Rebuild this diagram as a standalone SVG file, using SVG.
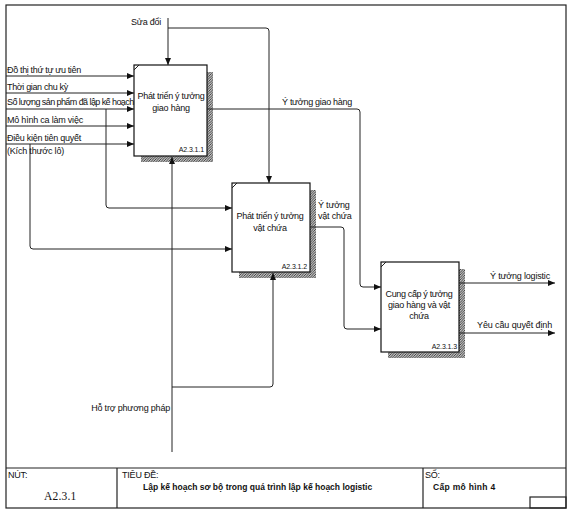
<svg xmlns="http://www.w3.org/2000/svg" width="576" height="512" viewBox="0 0 576 512">
<style>
text{font-family:"Liberation Sans",Arial,sans-serif;font-size:9px;fill:#111;letter-spacing:-0.2px}
.c{text-anchor:middle}
.e{text-anchor:end}
.lbl{font-size:7px;letter-spacing:-0.1px}
.b{font-weight:bold}
.box{fill:#fff;stroke:#111;stroke-width:1.2}
.frame{fill:none;stroke:#222;stroke-width:1.2}
.ln{fill:none;stroke:#222;stroke-width:1}
.hat{fill:url(#hatch)}
</style>
<defs>
<pattern id="hatch" patternUnits="userSpaceOnUse" width="2.5" height="2.5">
<rect width="2.5" height="2.5" fill="#fff"/>
<path d="M0,2.5 L2.5,0 M-1,1 L1,-1 M1.5,3.5 L3.5,1.5" stroke="#222" stroke-width="0.9"/>
</pattern>
<marker id="arr" markerUnits="userSpaceOnUse" markerWidth="8" markerHeight="6" refX="7" refY="3" orient="auto">
<path d="M0,0 L7,3 L0,6 z" fill="#111"/>
</marker>
</defs>
<rect width="576" height="512" fill="#fff"/>
<g id="frame">
<rect class="frame" x="6" y="5" width="560" height="503"/>
<line class="frame" x1="6" y1="468" x2="566" y2="468"/>
<line class="frame" x1="117" y1="468" x2="117" y2="508"/>
<line class="frame" x1="423" y1="468" x2="423" y2="508"/>
<rect class="frame" x="530" y="497" width="36" height="11"/>
<text x="8" y="478">NÚT:</text>
<text x="44" y="500" style="font-family:'Liberation Serif','Times New Roman',serif;font-size:11.5px" textLength="32">A2.3.1</text>
<text x="122" y="478">TIÊU ĐỀ:</text>
<text x="143" y="490" class="b" style="font-size:8.5px" textLength="229">Lập kế hoạch sơ bộ trong quá trình lập kế hoạch logistic</text>
<text x="425" y="478">SỐ:</text>
<text x="433" y="490" class="b" style="font-size:8.5px" textLength="62">Cấp mô hình 4</text>
</g>
<g id="node-A2.3.1.1">
<rect class="hat" x="207" y="72" width="6" height="90"/>
<rect class="hat" x="141" y="156" width="72" height="6"/>
<rect class="box" x="134" y="65" width="73" height="91"/>
<path class="ln" d="M134,70 L139,65"/>
<text class="c" x="171" y="99" textLength="67">Phát triển ý tưởng</text>
<text class="c" x="171" y="111">giao hàng</text>
<text class="e lbl" x="204" y="152">A2.3.1.1</text>
</g>
<g id="node-A2.3.1.2">
<rect class="hat" x="310" y="190" width="6" height="88"/>
<rect class="hat" x="239" y="272" width="77" height="6"/>
<rect class="box" x="232" y="183" width="78" height="89"/>
<path class="ln" d="M232,188 L237,183"/>
<text class="c" x="270" y="219" textLength="67">Phát triển ý tưởng</text>
<text class="c" x="270" y="231">vật chứa</text>
<text class="e lbl" x="307" y="269">A2.3.1.2</text>
</g>
<g id="node-A2.3.1.3">
<rect class="hat" x="459" y="269" width="6" height="89"/>
<rect class="hat" x="388" y="352" width="77" height="6"/>
<rect class="box" x="381" y="262" width="78" height="90"/>
<path class="ln" d="M381,267 L386,262"/>
<text class="c" x="419" y="297" textLength="67">Cung cấp ý tưởng</text>
<text class="c" x="419" y="308" textLength="62">giao hàng và vật</text>
<text class="c" x="419" y="319">chứa</text>
<text class="e lbl" x="457" y="349">A2.3.1.3</text>
</g>
<g id="connectors">
<path class="ln" marker-end="url(#arr)" d="M6,76 H134"/>
<path class="ln" marker-end="url(#arr)" d="M6,93 H134"/>
<path class="ln" marker-end="url(#arr)" d="M6,109 H134"/>
<path class="ln" marker-end="url(#arr)" d="M6,126 H134"/>
<path class="ln" marker-end="url(#arr)" d="M6,144 H134"/>
<path class="ln" marker-end="url(#arr)" d="M106,109 V205 Q106,208 109,208 H232"/>
<path class="ln" marker-end="url(#arr)" d="M30,144 V246 Q30,249 33,249 H232"/>
<path class="ln" marker-end="url(#arr)" d="M168,18 V65"/>
<path class="ln" marker-end="url(#arr)" d="M168,28 H266 Q269,28 269,31 V183"/>
<path class="ln" marker-end="url(#arr)" d="M207,109 H357 Q360,109 360,112 V284 Q360,287 363,287 H381"/>
<path class="ln" marker-end="url(#arr)" d="M310,227 H341 Q344,227 344,230 V326 Q344,329 347,329 H381"/>
<path class="ln" marker-end="url(#arr)" d="M459,283 H555"/>
<path class="ln" marker-end="url(#arr)" d="M459,333 H555"/>
<path class="ln" marker-end="url(#arr)" d="M172,452 V157"/>
<path class="ln" marker-end="url(#arr)" d="M172,387 H270 Q273,387 273,384 V273"/>
</g>
<g id="labels">
<text x="131" y="25">Sửa đổi</text>
<text x="7" y="73" textLength="74">Đồ thị thứ tự ưu tiên</text>
<text x="7" y="90" textLength="61">Thời gian chu kỳ</text>
<text x="7" y="105" textLength="127">Số lượng sản phẩm đã lập kế hoạch</text>
<text x="7" y="123" textLength="76">Mô hình ca làm việc</text>
<text x="7" y="141" textLength="74">Điều kiện tiên quyết</text>
<text x="7" y="154" textLength="57">(Kích thước lô)</text>
<text x="282" y="105" textLength="70">Ý tưởng giao hàng</text>
<text x="318" y="208">Ý tưởng</text>
<text x="318" y="219">vật chứa</text>
<text x="490" y="279" textLength="60">Ý tưởng logistic</text>
<text x="477" y="328" textLength="75">Yêu cầu quyết định</text>
<text class="e" x="170" y="411">Hỗ trợ phương pháp</text>
</g>
</svg>
